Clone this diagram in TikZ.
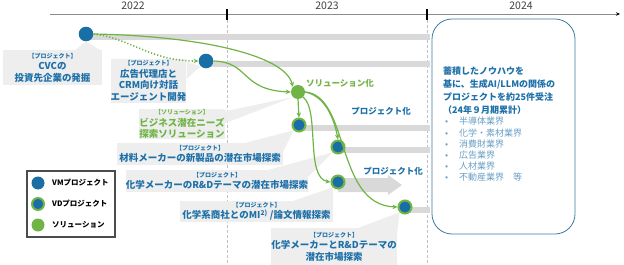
\documentclass[tikz,border=0pt]{standalone}
\usepackage{fontspec}
\setmainfont{Noto Sans CJK JP}
\usepackage{xcolor}
\usetikzlibrary{arrows.meta,positioning,backgrounds}
\definecolor{vmblue}{RGB}{24,110,165}
\definecolor{txtblue}{RGB}{30,112,168}
\definecolor{lightblue}{RGB}{105,158,198}
\definecolor{solgreen}{RGB}{112,180,70}
\definecolor{notegray}{RGB}{238,238,238}
\definecolor{bargray}{RGB}{217,217,217}
\definecolor{boxline}{RGB}{62,122,160}
\newcommand\tagp[1]{{\fontsize{6}{7}\selectfont #1}}

\begin{document}
\begin{tikzpicture}[x=1pt,y=-1pt,
    vm/.style={circle,fill=vmblue,minimum size=14.6pt,inner sep=0pt},
    vd/.style={circle,fill=vmblue,draw=solgreen,line width=2pt,minimum size=13pt,inner sep=0pt},
    sv/.style={circle,fill=solgreen,minimum size=14pt,inner sep=0pt},
    note/.style={fill=notegray,align=center,inner sep=0pt,text=txtblue,
                 font=\fontsize{9.5}{11.5}\selectfont\bfseries},
    bar/.style={fill=bargray},
    flow/.style={-{Stealth[length=5pt,width=4.5pt]},solgreen,line width=1.2pt},
    year/.style={font=\fontsize{10.5}{12}\selectfont,text=black!75},
    tick/.style={black,line width=1.5pt},
    lgtext/.style={anchor=west,font=\fontsize{7.5}{9}\selectfont\bfseries,inner sep=0pt}
  ]
  \useasboundingbox (0,0) rectangle (624,265);

  % timeline
  \node[year] (y1) at (133,6) {2022};
  \node[year] (y2) at (327,6) {2023};
  \node[year] (y3) at (521,6) {2024};
  \draw[black!45,line width=0.8pt,-{Stealth[length=4pt,width=3.5pt,black]}] (50,14) -- (620,14);
  \draw[tick] (227,9) -- (227,20);
  \draw[tick] (427,9) -- (427,20);

  % projects and solution
  \node[vm] (vm1) at (86,34) {};
  \node[vm] (vm2) at (206,61) {};
  \node[sv] (sv) at (298,92) {};
  \node[vd] (vd1) at (299,125) {};
  \node[vd] (vd2) at (338,147) {};
  \node[vd] (vd3) at (338,182) {};
  \node[vd] (vd4) at (405,207) {};

  % callouts
  \node[note,minimum width=99pt,minimum height=35pt] (n1) at (52.5,67.5)
    {\tagp{【プロジェクト】}\\CVCの\\投資先企業の発掘};
  \node[note,minimum width=73pt,minimum height=44pt] (n2) at (148.5,81)
    {\tagp{【プロジェクト】}\\広告代理店と\\CRM向け対話\\エージェント開発};
  \node[note,text=solgreen,minimum width=76pt,minimum height=28pt] (n3) at (182,124)
    {\tagp{【ソリューション】}\\ビジネス潜在ニーズ\\探索ソリューション};
  \node[note,minimum width=166pt,minimum height=22pt] (n4) at (200,154)
    {\tagp{【プロジェクト】}\\材料メーカーの新製品の潜在市場探索};
  \node[note,minimum width=180pt,minimum height=22pt] (n5) at (217,181)
    {\tagp{【プロジェクト】}\\化学メーカーのR\&Dテーマの潜在市場探索};
  \node[note,minimum width=153pt,minimum height=21pt] (n6) at (256.5,211.5)
    {\tagp{【プロジェクト】}\\化学系商社とのMI\textsuperscript{2)} /論文情報探索};
  \node[note,minimum width=126pt,minimum height=37pt] (n7) at (334,246.5)
    {\tagp{【プロジェクト】}\\化学メーカーとR\&Dテーマの\\潜在市場探索};

  % result box
  \draw[boxline,line width=0.8pt,fill=white,rounded corners=20pt] (432,19) rectangle (575,234);
  \node[anchor=north west,align=left,inner sep=0pt,text=txtblue,
        font=\fontsize{9}{13}\selectfont\bfseries] (res) at (443,67)
    {蓄積したノウハウを\\基に、生成AI/LLMの関係の\\プロジェクトを約25件受注\\（24年９月期累計）};
  \node[below=2pt of res.south west,anchor=north west,xshift=2pt,align=left,inner sep=0pt,
        text=lightblue,font=\fontsize{9}{11.2}\selectfont] (ind)
    {\makebox[14pt][l]{•}半導体業界\\\makebox[14pt][l]{•}化学・素材業界\\
     \makebox[14pt][l]{•}消費財業界\\\makebox[14pt][l]{•}広告業界\\
     \makebox[14pt][l]{•}人材業界\\\makebox[14pt][l]{•}不動産業界　等};

  \begin{scope}[on background layer]
    \draw[black!25,densely dashed,line width=0.6pt] (227,20) -- (227,265);
    \draw[black!25,densely dashed,line width=0.6pt] (427,20) -- (427,265);
    \fill[bar] (vm1.center) rectangle (430,40);
    \fill[bar] (vm2.center) rectangle (430,67);
    \fill[bar] (vd1.center) rectangle (430,131);
    \fill[bar] (vd2.center) rectangle (430,153);
    \fill[bar] (vd4.center) rectangle (430,213);
    \fill[bar] (vd3.center) ++(0,-4) -- (388,178) -- (388,175) -- (402,185)
      -- (388,195) -- (388,192) -- (338,192) -- cycle;
    % pointers
    \fill[notegray] (75,50) -- (vm1.south) -- (100,50) -- cycle;
    \fill[notegray] (n2.north east) ++(0,3) -- (vm2.south west) -- ([yshift=-20pt]n2.north east) -- cycle;
    \fill[notegray] (n3.north east) ++(0,2) -- (sv.south west) -- ([yshift=-14pt]n3.north east) -- cycle;
    \fill[notegray] (245,143) -- (vd1.south west) -- (283,152) -- cycle;
    \fill[notegray] (268,170) -- (vd2.south west) -- (307,178) -- cycle;
    \fill[notegray] (293,201) -- (vd3.south west) -- (333,206) -- cycle;
    \fill[notegray] (358,228) -- (vd4.south west) -- (397,234) -- cycle;
  \end{scope}

  % flows
  \draw[flow] (vm1.east) .. controls (200,36) and (285,55) .. (sv.north west);
  \draw[flow,dotted,line width=1.6pt] (vm1.east) .. controls (130,38) and (150,61) .. (vm2.west);
  \draw[flow] (vm2.east) .. controls (250,62) and (240,90) .. (sv.west);
  \draw[flow] (sv.south) -- (vd1.north);
  \draw[flow] (sv.east) .. controls (325,96) and (334,118) .. (vd2.north);
  \draw[flow] (sv.south east) .. controls (320,110) and (305,178) .. (vd3.west);
  \draw[flow] (sv.east) .. controls (350,96) and (335,205) .. (vd4.west);

  \node[text=solgreen,font=\fontsize{8.5}{10}\selectfont\bfseries] (l1) at (340,83) {ソリューション化};
  \node[text=txtblue,font=\fontsize{8.5}{10}\selectfont\bfseries] (l2) at (381,111) {プロジェクト化};
  \node[text=txtblue,font=\fontsize{8.5}{10}\selectfont\bfseries] (l3) at (393,171) {プロジェクト化};

  % legend
  \node[draw=black!70,line width=1.2pt,minimum width=88pt,minimum height=66pt,inner sep=0pt] (lg) at (71,204) {};
  \node[vm,minimum size=13pt] (k1) at (38,183) {};
  \node[vd,minimum size=12pt] (k2) at (38,204) {};
  \node[sv,minimum size=13pt] (k3) at (38,225) {};
  \node[lgtext] at (52,183) {VMプロジェクト};
  \node[lgtext] at (52,204) {VDプロジェクト};
  \node[lgtext] at (52,225) {ソリューション};
\end{tikzpicture}
\end{document}
